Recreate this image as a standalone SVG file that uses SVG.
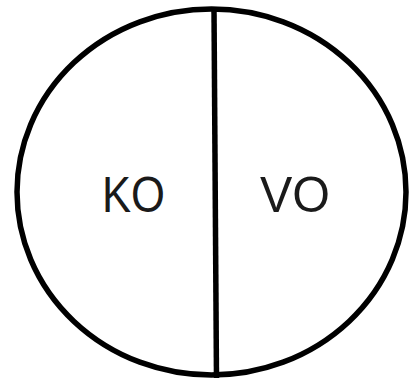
<svg xmlns="http://www.w3.org/2000/svg" width="411" height="378" viewBox="0 0 411 378">
<style>
.shape{fill:none;stroke:#000;stroke-width:5.5}
.lbl{font-family:"Liberation Sans",Arial,sans-serif;font-size:50px;fill:#1a1a1a}
</style>
<rect width="411" height="378" fill="#fff"/>
<g id="circle">
<ellipse class="shape" cx="211.5" cy="192" rx="194.5" ry="183"/>
</g>
<g id="connectors">
<line class="shape" x1="214" y1="9" x2="216.5" y2="380"/>
</g>
<g id="ko">
<text class="lbl" x="102" y="212" textLength="63" lengthAdjust="spacingAndGlyphs">KO</text>
</g>
<g id="vo">
<text class="lbl" x="260" y="212" textLength="70" lengthAdjust="spacingAndGlyphs">VO</text>
</g>
</svg>
